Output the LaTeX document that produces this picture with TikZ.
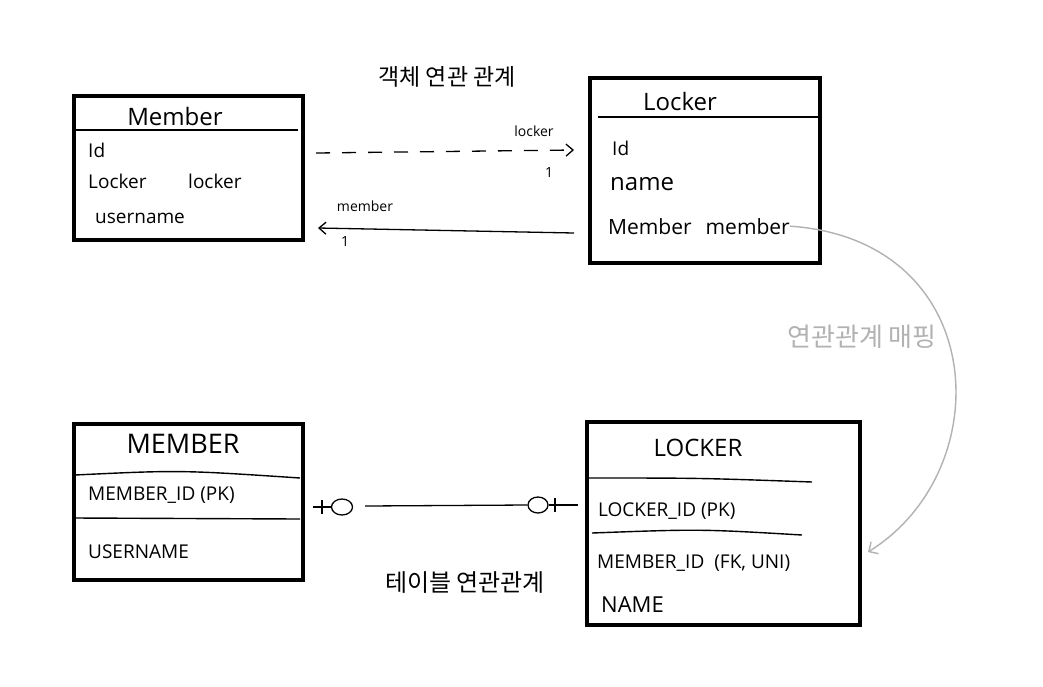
\documentclass[tikz,border=0pt]{standalone}
\usepackage{fontspec}
\setmainfont{Open Sans}
\newfontfamily\krfont{Noto Sans CJK KR}
\usetikzlibrary{arrows.meta,shapes.geometric}

\tikzset{
  box/.style={draw, line width=3.6pt, inner sep=0pt},
  rule/.style={line width=1.4pt},
  title/.style={font=\fontsize{24}{28}\selectfont, inner sep=0pt},
  field/.style={font=\fontsize{19}{22}\selectfont, anchor=base west, inner sep=0pt},
  kor/.style={font=\krfont\fontsize{23}{26}\selectfont, inner sep=0pt},
  tag/.style={font=\fontsize{14}{16}\selectfont, inner sep=0pt},
  link/.style={line width=1.3pt, -{Straight Barb[length=7pt,width=12pt]}},
  opt/.style={draw, line width=1.3pt, ellipse, inner sep=0pt, minimum height=16pt},
}

\begin{document}
\begin{tikzpicture}[x=1pt,y=-1pt]
        \useasboundingbox[fill=white] (0,0) rectangle (1043,686);

        % Object model: Member
        \node[box, minimum width=229pt, minimum height=144pt] (memObj) at (188.5,168) {};
        \draw[rule] (75,130) -- (298,130);
        \node[title] (memObjTitle) at (175,116) {Member};
        \node[field] (memObjId) at (88,157) {Id};
        \node[field] (memObjLock) at (88,188) {Locker};
        \node[field] (memObjLockVar) at (188,188) {locker};
        \node[field] (memObjUser) at (95,223) {username};

        % Object model: Locker
        \node[box, minimum width=230pt, minimum height=185pt] (lockObj) at (705,170.5) {};
        \draw[rule] (598,117) -- (818,117);
        \node[title] (lockObjTitle) at (680,101) {Locker};
        \node[field] (lockObjId) at (612,155) {Id};
        \node[field, font=\fontsize{24}{28}\selectfont] (lockObjName) at (610,190) {name};
        \node[field, font=\fontsize{21}{24}\selectfont] (lockObjRef) at (608,234) {Member\hspace{14pt}member};

        \node[kor] (objLabel) at (447,77) {객체 연관 관계};

        % Object references
        \coordinate (toLockS) at (316,153);
        \coordinate (toLockE) at (574,150);
        \draw[link, dash pattern=on 14pt off 12pt] (toLockS) -- (toLockE);
        \node[tag] (toLockName) at (534,131) {locker};
        \node[tag] (toLockMult) at (549,172) {1};

        \coordinate (toMemS) at (574,233);
        \coordinate (toMemE) at (318,228);
        \draw[link] (toMemS) -- (toMemE);
        \node[tag] (toMemName) at (365,206) {member};
        \node[tag] (toMemMult) at (345,241) {1};

        % Table model: MEMBER
        \node[box, minimum width=229pt, minimum height=156pt] (memTbl) at (188.5,502) {};
        \draw[rule] (75,475) .. controls (180,470) .. (300,478);
        \draw[rule] (75,518) -- (300,519);
        \node[title, font=\fontsize{27}{30}\selectfont] (memTblTitle) at (183,444) {MEMBER};
        \node[field] (memTblId) at (88,500) {MEMBER\_ID (PK)};
        \node[field] (memTblUser) at (88,558) {USERNAME};

        % Table model: LOCKER
        \node[box, minimum width=273pt, minimum height=203pt] (lockTbl) at (723.5,523.5) {};
        \draw[rule] (588,478) .. controls (700,478) .. (812,482);
        \draw[rule] (592,533) .. controls (700,529) .. (802,535);
        \node[title] (lockTblTitle) at (698,448) {LOCKER};
        \node[field] (lockTblId) at (598,516) {LOCKER\_ID (PK)};
        \node[field] (lockTblFk) at (597,568) {MEMBER\_ID\hspace{10pt}(FK, UNI)};
        \node[field, font=\fontsize{22}{26}\selectfont] (lockTblName) at (601,612) {NAME};

        \node[kor, font=\krfont\fontsize{24}{28}\selectfont] (tblLabel) at (465,583) {테이블 연관관계};

        % Foreign key relation (one to one, optional)
        \coordinate (fkL) at (313,507);
        \coordinate (fkR) at (578,505);
        \node[opt, minimum width=21pt] (fkLo) at (342,507) {};
        \node[opt, minimum width=20pt] (fkRo) at (538,505) {};
        \draw[line width=1.3pt] (fkL) -- (fkLo.west);
        \draw[line width=1.3pt] (322,500) -- (322,514);
        \draw[line width=1.3pt] (365,506) -- (fkRo.west);
        \draw[line width=1.3pt] (fkRo.east) -- (fkR);
        \draw[line width=1.3pt] (555,498) -- (555,512);

        % Mapping
        \coordinate (mapEnd) at (868,552);
        \draw[gray!60, line width=1.4pt, -{Straight Barb[length=7pt,width=14pt]}]
            (lockObjRef.east) .. controls (990,240) and (1000,470) .. (mapEnd);
        \node[kor, gray!60, font=\krfont\fontsize{26}{30}\selectfont] (mapLabel) at (862,337) {연관관계 매핑};
\end{tikzpicture}
\end{document}
